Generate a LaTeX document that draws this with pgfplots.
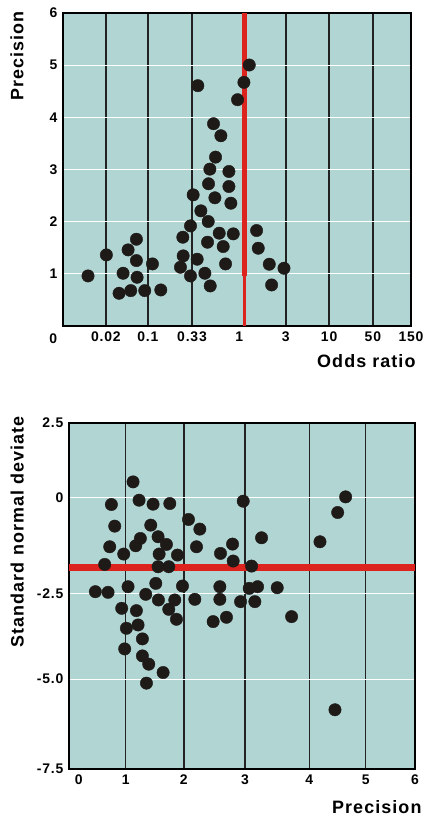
\documentclass[border=0pt]{standalone}
\usepackage{pgfplots}
\pgfplotsset{compat=1.18}
\usepackage{fontspec}
\setmainfont{Liberation Sans}
\definecolor{bgcol}{HTML}{B0D5D3}
\definecolor{redl}{HTML}{DC231E}
\definecolor{dotc}{HTML}{1E1A18}
\definecolor{gridk}{HTML}{222222}
\newcommand{\tickfont}{\fontsize{14}{14}\selectfont\bfseries\addfontfeatures{LetterSpace=6}}
\newcommand{\labfont}{\fontsize{18}{18}\selectfont\bfseries\addfontfeatures{LetterSpace=6}}
\begin{document}
\begin{tikzpicture}
\useasboundingbox (0,0) rectangle (432bp,820bp);
% ---------------- top panel: funnel plot ----------------
\begin{axis}[
  at={(63bp,494bp)}, anchor=south west,
  scale only axis, width=348bp, height=313bp,
  xmin=0, xmax=8.12, ymin=0, ymax=6,
  clip mode=individual,
  axis background/.style={fill=bgcol},
  axis line style={line width=1.6bp, black},
  major tick length=0pt,
  /pgf/number format/assume math mode=true,
  ticklabel style={font=\tickfont},
  xtick={1.0,1.98,3.01,5.20,6.21,7.23},
  xticklabels={0.02,0.1,0.33,3,10,50},
  extra x ticks={4.11,8.12},
  extra x tick labels={1,150},
  extra x tick style={grid=none},
  xmajorgrids,
  major x grid style={gridk, line width=1.5bp},
  ytick={1,2,3,4,5,6},
  yticklabels={1,2,3,4,5,6},
  ymajorgrids,
  major y grid style={white, line width=0.9bp},
  xticklabel style={yshift=-2bp},
  yticklabel style={xshift=-2bp},
  xlabel={Odds ratio},
  xlabel style={font=\labfont, at={(rel axis cs:1,0)}, anchor=base east, yshift=-42bp, xshift=8bp},
  ylabel={Precision},
  ylabel style={font=\labfont, at={(rel axis cs:-0.132,1.016)}, anchor=east},
]
\addplot[redl, line width=3.5bp, forget plot] coordinates {(4.23,0) (4.23,0.95)};
\addplot[redl, line width=5.5bp, forget plot] coordinates {(4.23,0.95) (4.23,6)};
\addplot[only marks, mark=*, mark size=6.2bp, mark options={fill=dotc, draw=dotc}] coordinates {
(0.584,0.960) (1.012,1.363) (1.308,0.627) (1.402,1.011) (1.519,1.459)
(1.581,0.678) (1.713,1.663) (1.713,1.254) (1.729,0.934) (1.908,0.678)
(2.087,1.190) (2.282,0.691) (2.741,1.126) (2.796,1.702) (2.804,1.344)
(2.975,0.960) (2.975,1.919) (3.037,2.514) (3.131,1.280) (3.146,4.607)
(3.217,2.207) (3.310,1.011) (3.372,1.606) (3.388,2.003) (3.396,2.726)
(3.427,3.007) (3.435,0.768) (3.512,3.877) (3.544,2.457) (3.559,3.237)
(3.645,1.779) (3.684,3.647) (3.738,1.523) (3.793,1.190) (3.871,2.962)
(3.871,2.674) (3.917,2.354) (3.972,1.766) (4.073,4.338) (4.221,4.670)
(4.346,5.003) (4.517,1.830) (4.556,1.491) (4.813,1.184) (4.868,0.787)
(5.156,1.107)
};
\node[font=\tickfont, anchor=north, yshift=-4bp] at (axis cs:-0.23,0) {0};
\end{axis}
% ---------------- bottom panel: Galbraith plot ----------------
\begin{axis}[
  at={(69bp,51bp)}, anchor=south west,
  scale only axis, width=346bp, height=346bp,
  xmin=0, xmax=6, ymin=-7.5, ymax=2.5,
  axis background/.style={fill=bgcol},
  axis line style={line width=1.6bp, black},
  major tick length=0pt,
  /pgf/number format/assume math mode=true,
  ticklabel style={font=\tickfont},
  xtick={0.984,1.991,3.050,4.167,5.145},
  xticklabels={1,2,3,4,5},
  extra x ticks={0.168,6.0},
  extra x tick labels={0,6},
  extra x tick style={grid=none},
  xmajorgrids,
  major x grid style={gridk, line width=1.5bp},
  ytick={0.346,-2.423,-4.904},
  yticklabels={0,-2.5,-5.0},
  extra y ticks={2.5,-7.5},
  extra y tick labels={2.5,-7.5},
  extra y tick style={grid=none},
  ymajorgrids,
  major y grid style={white, line width=0.9bp},
  xticklabel style={yshift=-2bp},
  yticklabel style={xshift=-2bp},
  xlabel={Precision},
  xlabel style={font=\labfont, at={(rel axis cs:1,0)}, anchor=base east, yshift=-44bp, xshift=10bp},
  ylabel={Standard normal deviate},
  ylabel style={font=\labfont, at={(rel axis cs:-0.150,1.029)}, anchor=east},
]
\addplot[redl, line width=7bp, forget plot] coordinates {(0,-1.673) (6,-1.673)};
\addplot[only marks, mark=*, mark size=6.2bp, mark options={fill=dotc, draw=dotc}] coordinates {
(0.457,-2.375) (0.619,-1.587) (0.677,-2.394) (0.706,-1.077) (0.735,0.144)
(0.793,-0.481) (0.914,-2.856) (0.949,-1.288) (0.966,-4.029) (0.995,-3.433)
(1.024,-2.231) (1.111,0.798) (1.157,-1.048) (1.169,-2.923) (1.198,-3.337)
(1.215,0.269) (1.238,-0.837) (1.273,-3.740) (1.273,-4.231) (1.331,-2.452)
(1.343,-5.019) (1.383,-4.471) (1.418,-0.452) (1.458,0.154) (1.505,-2.135)
(1.545,-0.788) (1.551,-2.615) (1.563,-1.288) (1.545,-1.654) (1.690,-1.010)
(1.730,-1.654) (1.730,-2.885) (1.632,-4.712) (1.748,0.173) (1.834,-2.615)
(1.863,-3.173) (1.881,-1.317) (1.968,-2.212) (2.072,-0.288) (2.182,-2.596)
(2.211,-1.077) (2.269,-0.567) (2.500,-3.240) (2.616,-2.231) (2.616,-2.596)
(2.627,-1.269) (2.731,-3.115) (2.836,-1.000) (2.847,-1.490) (2.975,-2.663)
(3.021,0.240) (3.125,-2.279) (3.166,-1.635) (3.223,-2.663) (3.270,-2.231)
(3.339,-0.817) (3.611,-2.260) (3.860,-3.096) (4.352,-0.933) (4.612,-5.788)
(4.659,-0.087) (4.797,0.365)
};
\end{axis}
\end{tikzpicture}
\end{document}
